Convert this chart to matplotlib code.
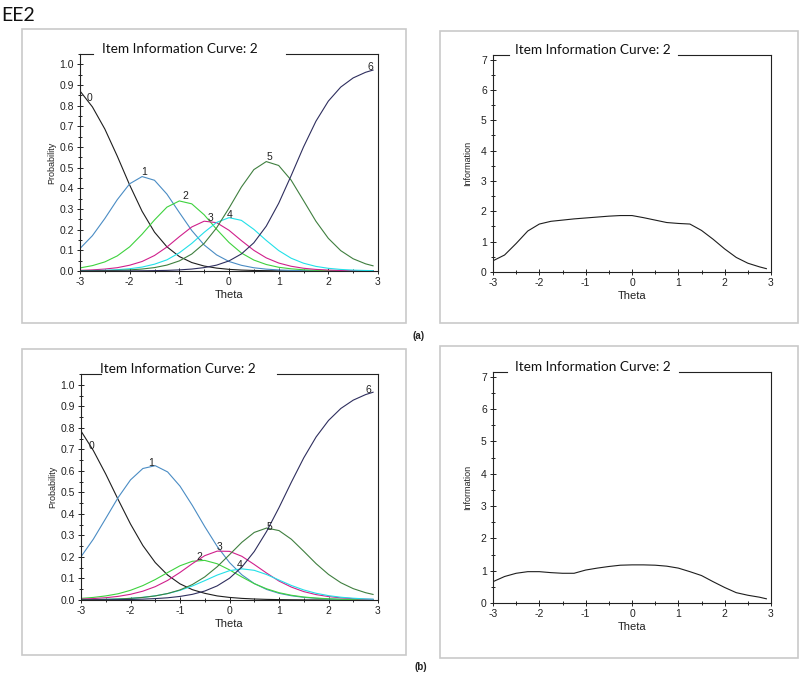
import numpy as np
import matplotlib
matplotlib.use("Agg")
import matplotlib.pyplot as plt
from matplotlib.patches import Rectangle
from matplotlib.ticker import MultipleLocator, FormatStrFormatter

plt.rcParams["axes.unicode_minus"] = False

W, H = 800, 676

# theta grid
theta = [-3, -2.75, -2.5, -2.25, -2, -1.75, -1.5, -1.25, -1, -0.75, -0.5, -0.25, 0,
         0.25, 0.5, 0.75, 1, 1.25, 1.5, 1.75, 2, 2.25, 2.5, 2.75, 2.9]

# ---- (a) category probability curves -----------------------------------------
a_cat0 = [0.871, 0.794, 0.687, 0.556, 0.416, 0.289, 0.188, 0.117, 0.070, 0.041, 0.024, 0.014, 0.008,
          0.0045, 0.0026, 0.0015, 0.0008, 0.0004, 0.0002, 0.0001, 0, 0, 0, 0, 0]
a_cat1 = [0.109, 0.171, 0.254, 0.345, 0.422, 0.457, 0.439, 0.372, 0.283, 0.196, 0.126, 0.078, 0.046,
          0.0275, 0.0157, 0.009, 0.0052, 0.003, 0.0017, 0.001, 0.0005, 0.0003, 0.0002, 0.0001, 0.0001]
a_cat2 = [0.015, 0.026, 0.044, 0.073, 0.117, 0.178, 0.247, 0.309, 0.339, 0.325, 0.272, 0.202, 0.138,
          0.087, 0.053, 0.0315, 0.018, 0.0106, 0.006, 0.0035, 0.002, 0.0012, 0.0007, 0.0004, 0.0003]
a_cat3 = [0.003, 0.0054, 0.0094, 0.016, 0.028, 0.046, 0.075, 0.116, 0.166, 0.213, 0.241, 0.234, 0.197,
          0.147, 0.100, 0.0635, 0.0386, 0.023, 0.0133, 0.0077, 0.0044, 0.0025, 0.0015, 0.0008, 0.0006]
a_cat4 = [0.0012, 0.0021, 0.0036, 0.0064, 0.011, 0.019, 0.033, 0.054, 0.088, 0.1335, 0.187, 0.235, 0.258,
          0.245, 0.2015, 0.148, 0.099, 0.062, 0.0377, 0.0223, 0.013, 0.0075, 0.0043, 0.0025, 0.0018]
a_cat5 = [0.0006, 0.001, 0.0018, 0.0031, 0.0054, 0.0095, 0.0165, 0.0286, 0.0489, 0.0821, 0.1336, 0.2086, 0.3042,
          0.4064, 0.4905, 0.5295, 0.5106, 0.440, 0.341, 0.2408, 0.158, 0.0985, 0.0591, 0.0347, 0.0251]
a_cat6 = [0.0001, 0.0001, 0.0002, 0.0003, 0.0006, 0.001, 0.0018, 0.0031, 0.0054, 0.0094, 0.0164, 0.0284, 0.0488,
          0.0826, 0.1365, 0.217, 0.3274, 0.4607, 0.600, 0.7246, 0.822, 0.890, 0.9343, 0.9615, 0.9722]

# ---- (b) category probability curves -----------------------------------------
b_cat0 = [0.785, 0.694, 0.585, 0.467, 0.353, 0.253, 0.174, 0.116, 0.075, 0.048, 0.031, 0.019, 0.012,
          0.0075, 0.0047, 0.0029, 0.0018, 0.0011, 0.0007, 0.0004, 0.0003, 0.0002, 0.0001, 0.0001, 0.0001]
b_cat1 = [0.201, 0.283, 0.379, 0.476, 0.558, 0.611, 0.624, 0.595, 0.529, 0.439, 0.341, 0.2495, 0.174,
          0.117, 0.0765, 0.049, 0.031, 0.0197, 0.0123, 0.0078, 0.0048, 0.003, 0.0019, 0.0011, 0.0008]
b_cat2 = [0.0075, 0.012, 0.019, 0.029, 0.045, 0.067, 0.095, 0.1275, 0.159, 0.180, 0.184, 0.1685, 0.140,
          0.107, 0.076, 0.052, 0.034, 0.022, 0.014, 0.009, 0.0056, 0.0035, 0.0022, 0.0014, 0.0011]
b_cat3 = [0.0042, 0.0066, 0.0106, 0.0168, 0.0265, 0.041, 0.062, 0.091, 0.128, 0.169, 0.206, 0.227, 0.226,
          0.203, 0.165, 0.125, 0.088, 0.060, 0.039, 0.025, 0.016, 0.010, 0.0063, 0.004, 0.003]
b_cat4 = [0.0012, 0.002, 0.0031, 0.0049, 0.0078, 0.0124, 0.0193, 0.0298, 0.0448, 0.0651, 0.0899, 0.1157, 0.1363,
          0.1448, 0.1379, 0.1183, 0.0927, 0.0675, 0.0467, 0.0312, 0.0203, 0.0129, 0.0082, 0.0051, 0.0038]
b_cat5 = [0.0011, 0.0018, 0.0029, 0.0047, 0.0075, 0.012, 0.019, 0.0301, 0.0468, 0.0719, 0.1073, 0.1543, 0.2106,
          0.2682, 0.314, 0.3344, 0.3225, 0.2822, 0.2263, 0.1687, 0.1188, 0.0802, 0.0527, 0.0339, 0.0259]
b_cat6 = [0.0004, 0.0006, 0.001, 0.0016, 0.0025, 0.004, 0.0065, 0.0103, 0.0166, 0.0263, 0.0417, 0.0654, 0.1011,
          0.1531, 0.2253, 0.3187, 0.4292, 0.5474, 0.6604, 0.7577, 0.8341, 0.890, 0.9286, 0.9544, 0.9653]

# ---- item information --------------------------------------------------------
a_info = [0.37, 0.56, 0.94, 1.35, 1.58, 1.67, 1.71, 1.75, 1.78, 1.81, 1.84, 1.86, 1.86,
          1.79, 1.71, 1.63, 1.60, 1.58, 1.37, 1.08, 0.76, 0.48, 0.29, 0.17, 0.11]
b_info = [0.66, 0.82, 0.92, 0.97, 0.97, 0.94, 0.92, 0.92, 1.02, 1.08, 1.13, 1.17, 1.18,
          1.18, 1.17, 1.14, 1.08, 0.97, 0.85, 0.66, 0.48, 0.32, 0.24, 0.18, 0.13]

cat_names = ["0", "1", "2", "3", "4", "5", "6"]
cat_colors = ["#1e1e1e", "#4a8cc4", "#3ed23e", "#d0208c", "#22e0e8", "#3f7f3f", "#2e2e5e"]

# where the category numbers sit (theta, probability)
a_label_pos = [(-2.81, 0.838), (-1.71, 0.478), (-0.88, 0.362), (-0.38, 0.256), (0.01, 0.272), (0.82, 0.552), (2.84, 0.988)]
b_label_pos = [(-2.78, 0.716), (-1.59, 0.636), (-0.61, 0.198), (-0.21, 0.248), (0.21, 0.162), (0.80, 0.340), (2.80, 0.976)]

TITLE = "Item Information Curve: 2"
TICK_FONT = "Liberation Sans"
TITLE_FONT = "Lato"


def px_rect(x0, y0, x1, y1):
    return [x0 / W, 1 - y1 / H, (x1 - x0) / W, (y1 - y0) / H]


def frame(fig, x0, y0, x1, y1):
    l, b, w, h = px_rect(x0, y0, x1, y1)
    fig.add_artist(Rectangle((l, b), w, h, transform=fig.transFigure,
                             fill=False, edgecolor="#c9c9c9", linewidth=1.2))


def style_axes(ax, gap, title_x):
    for side in ["left", "bottom", "right"]:
        ax.spines[side].set_linewidth(0.8)
        ax.spines[side].set_color("#222222")
    ax.spines["top"].set_visible(False)
    # top line broken by the title
    ax.plot([0, gap[0]], [1, 1], transform=ax.transAxes, color="#222222", lw=0.8, clip_on=False)
    ax.plot([gap[1], 1], [1, 1], transform=ax.transAxes, color="#222222", lw=0.8, clip_on=False)
    ax.text(title_x, 1.003, TITLE, transform=ax.transAxes, ha="center", va="baseline",
            fontsize=9.8, family=TITLE_FONT, color="#111111")
    ax.set_xlim(-3, 3)
    ax.xaxis.set_major_locator(MultipleLocator(1))
    ax.xaxis.set_minor_locator(MultipleLocator(0.5))
    ax.tick_params(which="major", direction="inout", length=5, width=0.7, labelsize=7.5,
                   colors="#222222", pad=2)
    ax.tick_params(which="minor", direction="inout", length=3.5, width=0.6)
    for lab in ax.get_xticklabels() + ax.get_yticklabels():
        lab.set_family(TICK_FONT)
    ax.set_xlabel("Theta", fontsize=8, family=TICK_FONT, color="#222222", labelpad=2)


def prob_panel(ax, curves, label_pos, gap, title_x):
    for vals, color in zip(curves, cat_colors):
        ax.plot(theta, vals, color=color, lw=0.8)
    for name, (tx, ty) in zip(cat_names, label_pos):
        ax.text(tx, ty, name, fontsize=7.5, family=TICK_FONT, color="#222222",
                ha="center", va="center")
    ax.set_ylim(0, 1.05)
    ax.yaxis.set_major_locator(MultipleLocator(0.1))
    ax.yaxis.set_minor_locator(MultipleLocator(0.05))
    ax.yaxis.set_major_formatter(FormatStrFormatter("%.1f"))
    ax.set_ylabel("Probability", fontsize=6.5, family=TICK_FONT, color="#222222", labelpad=2)
    style_axes(ax, gap, title_x)


def info_panel(ax, vals, gap, title_x):
    ax.plot(theta, vals, color="#1e1e1e", lw=0.8)
    ax.set_ylim(0, 7.15)
    ax.yaxis.set_major_locator(MultipleLocator(1))
    ax.yaxis.set_minor_locator(MultipleLocator(0.5))
    ax.set_ylabel("Information", fontsize=6.5, family=TICK_FONT, color="#222222", labelpad=6)
    style_axes(ax, gap, title_x)


fig = plt.figure(figsize=(W / 100, H / 100), dpi=100, facecolor="white")

frame(fig, 22, 29, 406, 323)
frame(fig, 440, 31, 798, 323)
frame(fig, 22, 349, 406, 655)
frame(fig, 440, 346, 798, 658)

ax1 = fig.add_axes(px_rect(80, 54, 378, 271))
prob_panel(ax1, [a_cat0, a_cat1, a_cat2, a_cat3, a_cat4, a_cat5, a_cat6], a_label_pos, (0.044, 0.691), 0.334)

ax2 = fig.add_axes(px_rect(493, 55, 771, 272))
info_panel(ax2, a_info, (0.058, 0.665), 0.36)

ax3 = fig.add_axes(px_rect(81, 374, 378, 600))
prob_panel(ax3, [b_cat0, b_cat1, b_cat2, b_cat3, b_cat4, b_cat5, b_cat6], b_label_pos, (0.067, 0.66), 0.326)

ax4 = fig.add_axes(px_rect(493, 372, 771, 603))
info_panel(ax4, b_info, (0.05, 0.67), 0.36)

fig.text(1 / W, 1 - 7 / H, "EE2", fontsize=14, family=TITLE_FONT, va="top", ha="left", color="#111111")
fig.text(419 / W, 1 - 336 / H, "(a)", fontsize=7, family=TICK_FONT, weight="bold",
         ha="center", va="center", color="#222222")
fig.text(421 / W, 1 - 667 / H, "(b)", fontsize=7, family=TICK_FONT, weight="bold",
         ha="center", va="center", color="#222222")

fig.savefig("out.png", dpi=100, facecolor="white")
